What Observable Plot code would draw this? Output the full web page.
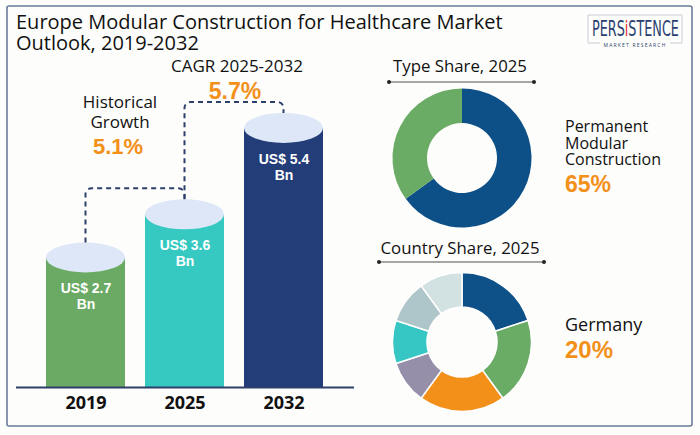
<!DOCTYPE html>
<html>
<head>
<meta charset="utf-8">
<script src="https://cdn.jsdelivr.net/npm/d3@7"></script>
<script src="https://cdn.jsdelivr.net/npm/@observablehq/plot@0.6"></script>
<style>
  html, body { margin: 0; padding: 0; background: #fdfdfb; }
  #root { position: relative; width: 700px; height: 435px; overflow: hidden; font-family: "Open Sans", sans-serif; }
  .panel { position: absolute; }
  #overlay { position: absolute; left: 0; top: 0; pointer-events: none; }
  .lbl { position: absolute; white-space: pre; }
</style>
</head>
<body>
<div id="root"></div>
<script>
// ---------- data ----------
const years = ["2019", "2025", "2032"];
const marketValues = [2.7, 3.6, 5.4];
const valueLabels = ["US$ 2.7\nBn", "US$ 3.6\nBn", "US$ 5.4\nBn"];
const barColors = ["#6aaa64", "#35c9c1", "#233d79"];
const growthTitles = ["Historical\nGrowth", "CAGR 2025-2032"];
const growthRates = ["5.1%", "5.7%"];

const typeNames = ["Permanent Modular Construction", "Other Types"];
const typeShares = [65, 35];
const typeColors = ["#0d4f87", "#6aab65"];

const countryNames = ["Germany", "Country B", "Country C", "Country D", "Country E", "Country F", "Country G"];
const countryShares = [20, 20, 20, 10, 10, 10, 10];
const countryColors = ["#0e5088", "#6aab65", "#f39019", "#958fa9", "#36c6c4", "#aec6ca", "#d2e1e2"];

const titleText = "Europe Modular Construction for Healthcare Market\nOutlook, 2019-2032";
const typeTitle = "Type Share, 2025";
const countryTitle = "Country Share, 2025";
const typeHighlight = "Permanent\nModular\nConstruction";
const countryHighlight = "Germany";

const ORANGE = "#f39019";
const NAVY = "#2d3f6b";
const FONT = "'Open Sans', sans-serif";
const NUMFONT = "'Liberation Sans', Arial, sans-serif";

const root = document.getElementById("root");

// ---------- bar chart ----------
const bars = years.map((year, i) => ({year, value: marketValues[i], label: valueLabels[i]}));

function connectors(index, scales) {
  const x = scales.x, y = scales.y, bw = x.bandwidth();
  const g = d3.create("svg:g");
  const r = 6;
  for (let i = 0; i < years.length - 1; i++) {
    const x0 = x(years[i]) + bw / 2, x1 = x(years[i + 1]) + bw / 2;
    const yStart = y(marketValues[i]) - 15;
    const yEnd = y(marketValues[i + 1]) - 15;
    const yMid = y(marketValues[i + 1]) - 26;
    const p = d3.path();
    p.moveTo(x0, yStart);
    p.lineTo(x0, yMid + r);
    p.arcTo(x0, yMid, x0 + r, yMid, r);
    p.lineTo(x1 - r, yMid);
    p.arcTo(x1, yMid, x1, yMid + r, r);
    p.lineTo(x1, yEnd);
    g.append("path").attr("d", p.toString()).attr("fill", "none")
      .attr("stroke", NAVY).attr("stroke-width", 2).attr("stroke-dasharray", "5,4");
  }
  return g.node();
}

const barPlot = Plot.plot({
  width: 356, height: 335,
  marginLeft: 16, marginRight: 2, marginTop: 4, marginBottom: 48,
  style: {background: "transparent", overflow: "visible", fontFamily: FONT, color: "#111"},
  x: {domain: years, paddingInner: 0.2, paddingOuter: 0.3, label: null},
  y: {domain: [0, 5.9], axis: null},
  color: {domain: years, range: barColors},
  marks: [
    Plot.barY(bars, {x: "year", y: "value", fill: "year"}),
    Plot.barY(bars, {x: "year", y1: "value", y2: "value", insetTop: -15, insetBottom: -15, rx: 40, ry: 15, fill: "#dde7f7"}),
    Plot.text(bars, {x: "year", y: "value", text: "label", dy: 38, fill: "white", fontWeight: "bold",
      fontSize: 14, lineHeight: 1.16, fontFamily: NUMFONT}),
    Plot.ruleY([0], {stroke: NAVY, strokeWidth: 2}),
    Plot.axisX({tickSize: 0, tickPadding: 9, fontSize: 18, fontWeight: "bold", fill: "#111"}),
    connectors
  ]
});
const barDiv = document.createElement("div");
barDiv.className = "panel";
barDiv.style.left = "0px"; barDiv.style.top = "100px";
barDiv.appendChild(barPlot);
root.appendChild(barDiv);

// ---------- donuts ----------
function donut(shares, colors, separator) {
  return Plot.plot({
    width: 150, height: 150, margin: 0,
    style: {background: "transparent", overflow: "visible"},
    marks: [
      (index, scales, values, dims) => {
        const g = d3.create("svg:g").attr("transform", `translate(${dims.width / 2},${dims.height / 2})`);
        const arcs = d3.pie().sort(null)(shares);
        const arc = d3.arc().innerRadius(35).outerRadius(69.5);
        g.selectAll("path").data(arcs).join("path")
          .attr("d", arc)
          .attr("fill", (d, i) => colors[i])
          .attr("stroke", separator ? "#ffffff" : "none")
          .attr("stroke-width", separator ? 1.5 : 0);
        return g.node();
      }
    ]
  });
}
function place(node, left, top) {
  const d = document.createElement("div");
  d.className = "panel";
  d.style.left = left + "px"; d.style.top = top + "px";
  d.appendChild(node);
  root.appendChild(d);
}
place(donut(typeShares, typeColors, false), 387, 83);
place(donut(countryShares, countryColors, true), 387, 267);

// ---------- overlay decorations ----------
const svg = d3.select(root).append("svg").attr("id", "overlay")
  .attr("width", 700).attr("height", 435).attr("font-family", FONT);

svg.append("rect").attr("x", 7).attr("y", 6).attr("width", 685).attr("height", 420)
  .attr("fill", "none").attr("stroke", "#6b7b99").attr("stroke-width", 1.6).attr("rx", 2);

function underline(lineY, x1, x2) {
  svg.append("line").attr("x1", x1).attr("x2", x2).attr("y1", lineY).attr("y2", lineY)
    .attr("stroke", "#888").attr("stroke-width", 1.5);
  svg.append("circle").attr("cx", x1).attr("cy", lineY).attr("r", 2).attr("fill", "#222");
  svg.append("circle").attr("cx", x2).attr("cy", lineY).attr("r", 2).attr("fill", "#222");
}
underline(82, 389, 534);
underline(262, 379, 544);

// logo
const logo = svg.append("g");
logo.append("path").attr("d", "M600,43 L588,43 L588,15 L682,15 L682,43 L670,43")
  .attr("fill", "none").attr("stroke", "#c9ccd6").attr("stroke-width", 1);
const lg = logo.append("g");
const lt = lg.append("text").attr("x", 0).attr("y", 0).attr("font-size", 22)
  .attr("font-family", "'Liberation Sans Narrow','DejaVu Sans Condensed',sans-serif")
  .text("PERSiSTENCE");
const w = lt.node().getComputedTextLength() || 87;
const iStart = lt.node().getSubStringLength(0, 4), iEnd = lt.node().getSubStringLength(0, 5);
const grad = svg.append("defs").append("linearGradient").attr("id", "logoGrad")
  .attr("gradientUnits", "userSpaceOnUse").attr("x1", 0).attr("x2", w).attr("y1", 0).attr("y2", 0);
[[0, "#2a3d6e"], [iStart / w, "#2a3d6e"], [iStart / w, "#e0252f"], [iEnd / w, "#e0252f"], [iEnd / w, "#2a3d6e"], [1, "#2a3d6e"]]
  .forEach(([o, c]) => grad.append("stop").attr("offset", o).attr("stop-color", c));
lt.attr("fill", "url(#logoGrad)");
lg.attr("transform", `translate(592,36) scale(${87 / w},0.95)`);
logo.append("text").attr("x", 635).attr("y", 46.5).attr("font-size", 5).attr("text-anchor", "middle")
  .attr("letter-spacing", 1.2).attr("fill", "#2a3d6e").text("MARKET RESEARCH");

// ---------- text labels (HTML, line-height controlled) ----------
// metric: distance (in em) from the middle of the content area up to the baseline
const METRIC = {open: 0.388, lib: 0.3465};
function htext(str, o) {
  const d = document.createElement("div");
  d.className = "lbl";
  d.textContent = str;
  const lh = o.lh || o.size;
  const num = o.num;
  Object.assign(d.style, {
    left: o.x + "px",
    top: (o.baseline - lh / 2 - (num ? METRIC.lib : METRIC.open) * o.size) + "px",
    fontFamily: num ? NUMFONT : FONT,
    fontSize: o.size + "px",
    lineHeight: lh + "px",
    fontWeight: o.weight || 400,
    color: o.color || "#111",
    textAlign: o.anchor === "middle" ? "center" : "left"
  });
  if (o.anchor === "middle") d.style.transform = "translateX(-50%)";
  root.appendChild(d);
}

htext(titleText, {x: 16, baseline: 29, size: 20, lh: 21});
htext(growthTitles[0], {x: 120, baseline: 108.5, size: 17, lh: 20, anchor: "middle"});
htext(growthRates[0], {x: 118, baseline: 154.5, size: 22, lh: 22, weight: 700, color: ORANGE, anchor: "middle", num: true});
htext(growthTitles[1], {x: 237, baseline: 72.5, size: 17, lh: 20, anchor: "middle"});
htext(growthRates[1], {x: 235, baseline: 99, size: 23, lh: 22, weight: 700, color: ORANGE, anchor: "middle", num: true});
htext(typeTitle, {x: 460, baseline: 73, size: 16.8, lh: 18, anchor: "middle"});
htext(countryTitle, {x: 460, baseline: 255, size: 16.8, lh: 18, anchor: "middle"});
htext(typeHighlight, {x: 565, baseline: 132.5, size: 16, lh: 16.5});
htext(typeShares[0] + "%", {x: 565, baseline: 192, size: 23, lh: 22, weight: 700, color: ORANGE, num: true});
htext(countryHighlight, {x: 565, baseline: 331, size: 18, lh: 20});
htext(countryShares[0] + "%", {x: 565, baseline: 358.5, size: 24, lh: 22, weight: 700, color: ORANGE, num: true});
</script>
</body>
</html>
